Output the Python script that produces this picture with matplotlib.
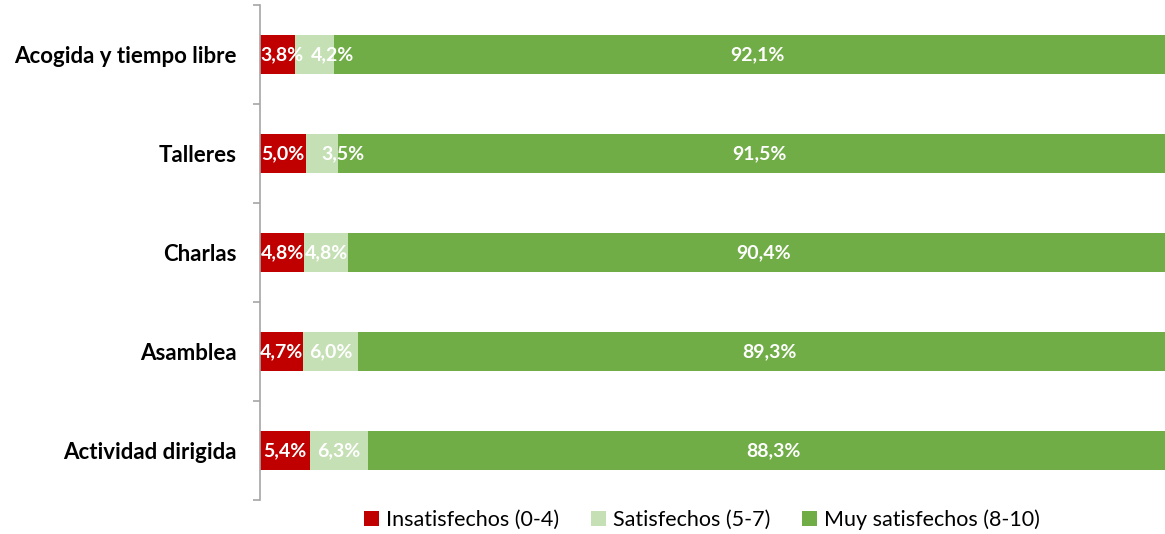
import matplotlib
matplotlib.use("Agg")
import matplotlib.pyplot as plt
import numpy as np

categories = ["Acogida y tiempo libre", "Talleres", "Charlas", "Asamblea", "Actividad dirigida"]
insatisfechos = [3.8, 5.0, 4.8, 4.7, 5.4]
satisfechos = [4.2, 3.5, 4.8, 6.0, 6.3]
muy_satisfechos = [92.1, 91.5, 90.4, 89.3, 88.3]
series_names = ["Insatisfechos (0-4)", "Satisfechos (5-7)", "Muy satisfechos (8-10)"]
colors = ["#C00000", "#C5E0B4", "#70AD47"]

# label nudges per series (rows top->bottom), pixels to the right,
# mimicking the spreadsheet's label collision avoidance
label_nudge = [
    [4, 0, 0, 0, 0],
    [18, 21, 0, 0, 0],
    [0, 0, 0, 0, 0],
]

plt.rcParams['font.family'] = ['Lato', 'DejaVu Sans']

fig = plt.figure(figsize=(11.65, 5.34), dpi=100)
ax = fig.add_axes([260/1165, 1-500/534, 1-260/1165, 495/534])

n = len(categories)
ypos = np.arange(n)[::-1]
left = np.zeros(n)
series = [insatisfechos, satisfechos, muy_satisfechos]
handles = []
for si, (vals, name, c) in enumerate(zip(series, series_names, colors)):
    vals = np.array(vals)
    b = ax.barh(ypos, vals, left=left, height=0.385, color=c, label=name, edgecolor='none')
    handles.append(b)
    for i, (y, l, v) in enumerate(zip(ypos, left, vals)):
        ax.annotate(f"{v:.1f}%".replace('.', ','), xy=(l + v/2, y),
                    xytext=(label_nudge[si][i], 0), textcoords='offset pixels',
                    ha='center', va='center', color='white', fontweight='bold', fontsize=14)
    left = left + vals

# plot area in the original extends slightly past the image's right edge
ax.set_xlim(0, 98.4)
ax.set_ylim(-0.5, n - 0.5)
ax.set_yticks(ypos)
ax.set_yticklabels(categories, fontweight='bold', fontsize=16)
ax.set_yticks(np.arange(-0.5, n, 1.0), minor=True)
ax.tick_params(axis='y', which='major', length=0, pad=16.5)
ax.tick_params(axis='y', which='minor', length=5, color='#A6A6A6', width=1.2)
ax.set_xticks([])
for s in ['top', 'right', 'bottom']:
    ax.spines[s].set_visible(False)
ax.spines['left'].set_color('#A6A6A6')
ax.spines['left'].set_linewidth(1.2)

fig.legend(handles=handles, labels=series_names, loc='center', bbox_to_anchor=(702/1165, 1-520/534),
           ncol=3, frameon=False, fontsize=15.5, handlelength=0.7, handleheight=0.7,
           handletextpad=0.3, columnspacing=1.5)

fig.savefig("out.png", dpi=100)
